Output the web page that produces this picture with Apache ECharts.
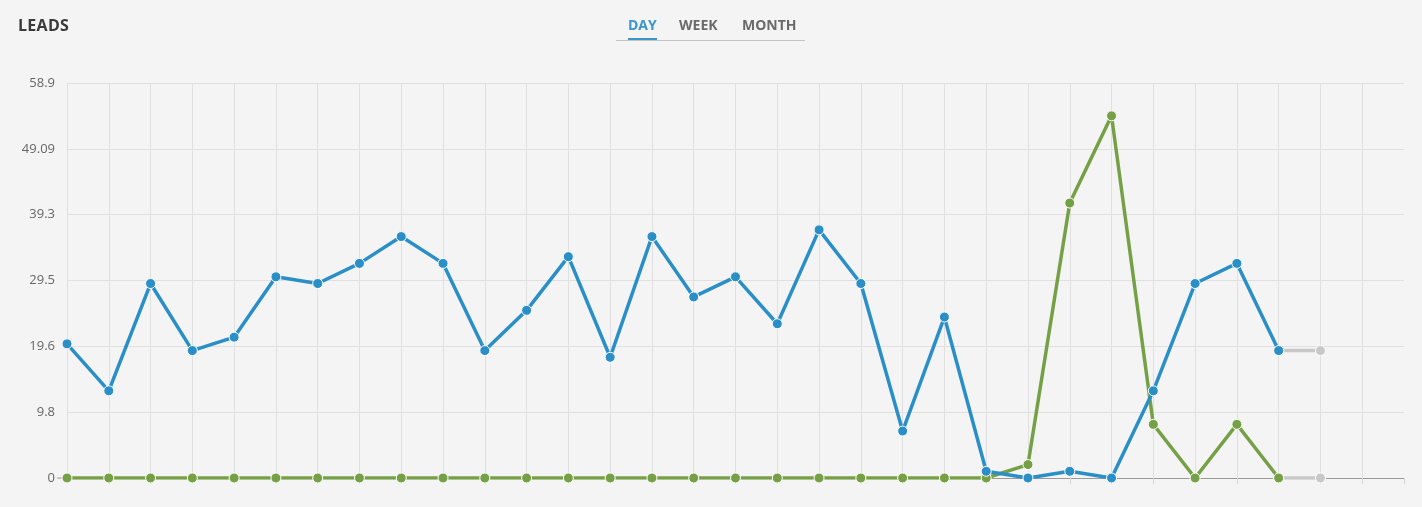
<!DOCTYPE html>
<html>
<head>
<meta charset="utf-8">
<script src="https://cdn.jsdelivr.net/npm/echarts@6/dist/echarts.min.js"></script>
<style>
  html, body { margin: 0; padding: 0; background: #f4f4f4; }
  #wrap { position: relative; width: 1422px; height: 507px; font-family: "Open Sans", "Noto Sans", sans-serif; }
  #chart { position: absolute; left: 0; top: 0; width: 1422px; height: 507px; }
  #title { position: absolute; left: 18px; top: 14px; font-size: 16px; font-weight: bold; color: #3a3a3a; letter-spacing: 0.3px; }
  #tabs { position: absolute; left: 616px; top: 15px; width: 189px; height: 25px; border-bottom: 1px solid #c4c4c4; font-size: 14px; font-weight: bold; color: #6a6a6a; }
  #tabs span { position: absolute; top: 0; }
  #tabs .on { color: #3a96c9; border-bottom: 2px solid #3a96c9; padding-bottom: 4px; }
</style>
</head>
<body>
<div id="wrap">
  <div id="chart"></div>
  <div id="title">LEADS</div>
  <div id="tabs">
    <span class="on" style="left:12px">DAY</span>
    <span style="left:63px">WEEK</span>
    <span style="left:126px">MONTH</span>
  </div>
</div>
<script>
const categories = Array.from({length: 33}, (_, i) => String(i + 1));
const blueValues = [20, 13, 29, 19, 21, 30, 29, 32, 36, 32, 19, 25, 33, 18, 36, 27, 30, 23, 37, 29, 7, 24, 1, 0, 1, 0, 13, 29, 32, 19];
const greenValues = [0, 0, 0, 0, 0, 0, 0, 0, 0, 0, 0, 0, 0, 0, 0, 0, 0, 0, 0, 0, 0, 0, 0, 2, 41, 54, 8, 0, 8, 0];
const blueForecast = [19, 19];
const greenForecast = [0, 0];
const yTickLabels = ['0', '9.8', '19.6', '29.5', '39.3', '49.09', '58.9'];
const yMax = 58.9;

function pad(arr, startIdx) {
  const out = new Array(categories.length).fill(null);
  arr.forEach((v, i) => { out[startIdx + i] = v; });
  return out;
}
const lastIdx = blueValues.length - 1;

const chart = echarts.init(document.getElementById('chart'));
const sym = (color) => ({ color: color, borderColor: '#ffffff', borderWidth: 1 });
chart.setOption({
  backgroundColor: '#f4f4f4',
  animation: false,
  grid: { left: 67, right: 18, top: 83, bottom: 29, containLabel: false },
  xAxis: {
    type: 'category',
    data: categories,
    boundaryGap: false,
    axisLine: { show: true, lineStyle: { color: '#9a9a9a', width: 1 } },
    axisTick: { show: true, length: 6, lineStyle: { color: '#d4d4d4' } },
    axisLabel: { show: false },
    splitLine: { show: true, interval: (i) => i < categories.length - 1, lineStyle: { color: '#e0e0e0', width: 1 } }
  },
  yAxis: {
    type: 'value',
    min: 0,
    max: yMax,
    interval: yMax / 6,
    axisLine: { show: false },
    axisTick: { show: false },
    axisLabel: {
      color: '#666666', fontSize: 13, margin: 12,
      fontFamily: '"Open Sans", "Noto Sans", sans-serif',
      formatter: (v, idx) => yTickLabels[idx] !== undefined ? yTickLabels[idx] : ''
    },
    splitLine: { show: true, lineStyle: { color: '#e0e0e0', width: 1 } }
  },
  graphic: [{
    type: 'line', shape: { x1: 57, y1: 478, x2: 64, y2: 478 },
    style: { stroke: '#9a9a9a', lineWidth: 1 }, silent: true
  }],
  series: [
    {
      name: 'Green forecast', type: 'line', data: pad(greenForecast, lastIdx),
      symbol: 'circle', symbolSize: 10, showAllSymbol: true, z: 1,
      lineStyle: { color: '#c8c8c8', width: 3.5 }, itemStyle: sym('#c8c8c8')
    },
    {
      name: 'Blue forecast', type: 'line', data: pad(blueForecast, lastIdx),
      symbol: 'circle', symbolSize: 10, showAllSymbol: true, z: 1,
      lineStyle: { color: '#c8c8c8', width: 3.5 }, itemStyle: sym('#c8c8c8')
    },
    {
      name: 'Green', type: 'line', data: pad(greenValues, 0),
      symbol: 'circle', symbolSize: 10, showAllSymbol: true, z: 2,
      lineStyle: { color: '#76a046', width: 3.5 }, itemStyle: sym('#76a046')
    },
    {
      name: 'Blue', type: 'line', data: pad(blueValues, 0),
      symbol: 'circle', symbolSize: 10, showAllSymbol: true, z: 3,
      lineStyle: { color: '#2a8fc7', width: 3.5 }, itemStyle: sym('#2a8fc7')
    }
  ]
});
</script>
</body>
</html>
